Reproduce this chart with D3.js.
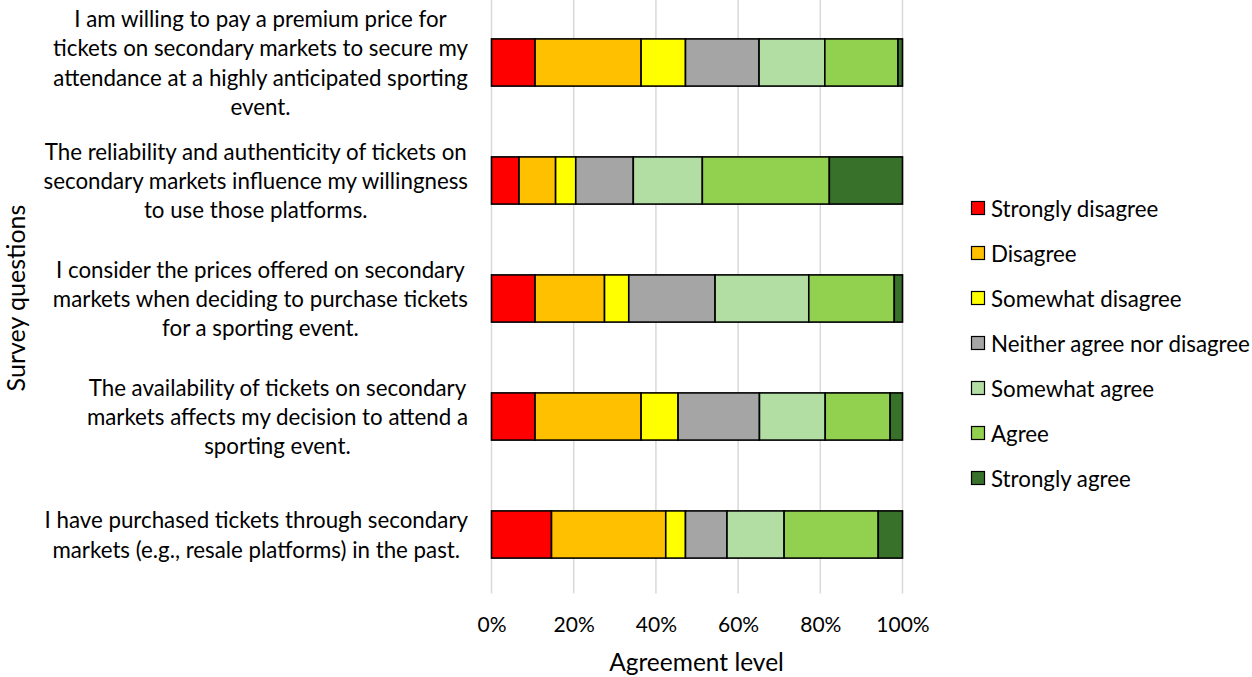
<!DOCTYPE html>
<html>
<head>
<meta charset="utf-8">
<script src="https://cdn.jsdelivr.net/npm/d3@7"></script>
<style>
  html, body { margin: 0; padding: 0; background: #fff; }
  svg { display: block; }
  text { font-family: Lato, "Open Sans", sans-serif; fill: #000; }
</style>
</head>
<body>
<svg id="chart" width="1252" height="677"></svg>
<script>
// ---------- data ----------
const categories = [
  "I am willing to pay a premium price for tickets on secondary markets to secure my attendance at a highly anticipated sporting event.",
  "The reliability and authenticity of tickets on secondary markets influence my willingness to use those platforms.",
  "I consider the prices offered on secondary markets when deciding to purchase tickets for a sporting event.",
  "The availability of tickets on secondary markets affects my decision to attend a sporting event.",
  "I have purchased tickets through secondary markets (e.g., resale platforms) in the past."
];
const categoryLines = [
  ["I am willing to pay a premium price for", "tickets on secondary markets to secure my", "attendance at a highly anticipated sporting", "event."],
  ["The reliability and authenticity of tickets on", "secondary markets influence my willingness", "to use those platforms."],
  ["I consider the prices offered on secondary", "markets when deciding to purchase tickets", "for a sporting event."],
  ["The availability of tickets on secondary", "markets affects my decision to attend a", "sporting event."],
  ["I have purchased tickets through secondary", "markets (e.g., resale platforms) in the past."]
];
const seriesNames = ["Strongly disagree", "Disagree", "Somewhat disagree", "Neither agree nor disagree", "Somewhat agree", "Agree", "Strongly agree"];
const stronglyDisagree = [10.6, 6.7, 10.6, 10.6, 14.6];
const disagree         = [25.8, 8.9, 16.9, 25.8, 27.8];
const somewhatDisagree = [10.8, 4.9, 5.9, 9.0, 4.8];
const neither          = [17.9, 14.0, 21.0, 19.8, 10.1];
const somewhatAgree    = [16.0, 16.8, 22.8, 16.0, 13.9];
const agree            = [17.8, 30.9, 20.8, 15.8, 22.9];
const stronglyAgree    = [1.1, 17.8, 2.0, 3.0, 5.9];
const seriesValues = [stronglyDisagree, disagree, somewhatDisagree, neither, somewhatAgree, agree, stronglyAgree];
const colors = ["#FF0000", "#FFC000", "#FFFF00", "#A5A5A5", "#B2DEA4", "#92D050", "#38712A"];
const xTicks = [0, 20, 40, 60, 80, 100];

// ---------- build table ----------
const table = categories.map((c, i) => {
  const row = { cat: c, idx: i };
  seriesNames.forEach((s, j) => row[s] = seriesValues[j][i]);
  return row;
});

const svg = d3.select("#chart");
const FS = 22.3;

const x = d3.scaleLinear().domain([0, 100]).range([491.5, 902.5]);
const y = d3.scaleBand().domain(d3.range(categories.length)).range([3.5, 593.5]).paddingInner(0.6).paddingOuter(0.3);

// gridlines
svg.append("g").selectAll("line").data(xTicks).join("line")
  .attr("x1", d => x(d)).attr("x2", d => x(d))
  .attr("y1", 0).attr("y2", 593.5)
  .attr("stroke", "#D9D9D9").attr("stroke-width", 1.5);

// bars
const stack = d3.stack().keys(seriesNames)(table);
svg.append("g").selectAll("g").data(stack).join("g")
  .attr("fill", (d, i) => colors[i])
  .selectAll("rect").data(d => d).join("rect")
  .attr("x", d => x(d[0]))
  .attr("y", d => y(d.data.idx))
  .attr("width", d => x(d[1]) - x(d[0]))
  .attr("height", y.bandwidth())
  .attr("stroke", "#000").attr("stroke-width", 1.6);

// x axis
const xAxis = d3.axisBottom(x).tickValues(xTicks).tickFormat(d => d + "%").tickSize(0).tickPadding(0);
const gx = svg.append("g").attr("transform", "translate(0,618)").call(xAxis);
gx.select(".domain").remove();
gx.selectAll("text").attr("font-size", 21).attr("font-family", "Lato, sans-serif").attr("fill", "#000").attr("dy", "0.35em").attr("y", 7);

// x title
svg.append("text").attr("x", 696.5).attr("y", 671).attr("text-anchor", "middle")
  .attr("font-size", 24.5).text("Agreement level");

// y title
svg.append("text").attr("transform", "translate(15,298) rotate(-90)")
  .attr("text-anchor", "middle").attr("dominant-baseline", "central")
  .attr("font-size", 25).text("Survey questions");

// category labels: block right-aligned, lines centered in block
const lineH = 29.3;
const right = 468;
const lab = svg.append("g");
categoryLines.forEach((lines, i) => {
  const g = lab.append("g");
  const ts = lines.map(l => g.append("text").attr("font-size", FS).attr("text-anchor", "middle")
    .attr("dominant-baseline", "central").text(l));
  const w = d3.max(ts, t => t.node().getComputedTextLength());
  const cx = right - w / 2;
  const cy = y(i) + y.bandwidth() / 2;
  ts.forEach((t, k) => t.attr("x", cx).attr("y", cy + (k - (lines.length - 1) / 2) * lineH));
});

// legend
const leg = svg.append("g");
seriesNames.forEach((s, i) => {
  const cy = 208 + i * 45;
  leg.append("rect").attr("x", 971.5).attr("y", cy - 6.5).attr("width", 13).attr("height", 13)
    .attr("fill", colors[i]).attr("stroke", "#000").attr("stroke-width", 1.2);
  leg.append("text").attr("x", 991).attr("y", cy).attr("dominant-baseline", "central")
    .attr("font-size", FS).text(s);
});
</script>
</body>
</html>
